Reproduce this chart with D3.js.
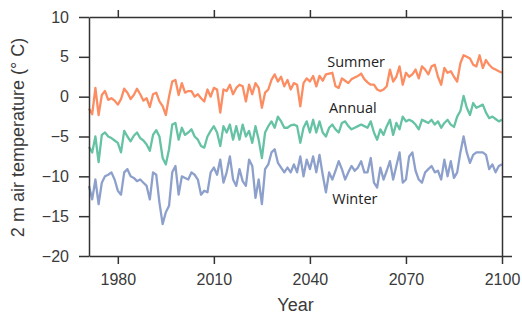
<!DOCTYPE html>
<html lang="en">
<head>
    <meta charset="utf-8">
    <title>2 m air temperature</title>
    <script src="https://cdn.jsdelivr.net/npm/d3@7"></script>
    <style>
        body {
            margin: 0;
            background-color: #fff;
        }
        .axis text {
            font-family: 'Liberation Sans', Arial, sans-serif;
            font-size: 16px;
            fill: #3a3a3a;
        }
        .axis line, .axis path {
            stroke: #333;
            stroke-width: 1.5;
        }
        .axis-title {
            font-family: 'Liberation Sans', Arial, sans-serif;
            font-size: 18px;
            fill: #3a3a3a;
        }
        .series-label {
            font-family: 'Open Sans', sans-serif;
            font-size: 14.5px;
            fill: #222;
        }
    </style>
</head>
<body>
    <svg id="chart"></svg>

    <script>
    // years on the x axis
    var firstYear = 1971;
    var lastYear = 2100;
    var years = d3.range(firstYear, lastYear + 1);

    var xTicks = [1980, 2010, 2040, 2070, 2100];
    var yTicks = [-20, -15, -10, -5, 0, 5, 10];

    // one value per year 1971-2100
    var summer = [
        -1.5, -2.2, 1.1, -2.3, 0.2, 0.7, -0.4, -0.2, -0.5, -1.0,
        -0.3, 1.0, 0.5, -0.3, 0.2, 1.0, 0.3, -0.5, -0.2, -1.3,
        0.3, 0.5, -0.6, -1.2, -2.3, 0.0, 1.9, 2.1, 0.2, 1.7,
        0.5, 0.7, 0.7, 0.0, 0.3, -0.2, -0.6, 0.9, 0.0, 1.1,
        0.9, -2.0, 0.9, 0.7, 1.5, 0.3, 1.1, 1.5, 1.3, -0.6,
        1.5, 0.3, 1.7, 1.1, -1.4, 0.5, 0.9, 2.1, 2.8, 1.9,
        2.5, 1.3, 2.1, 0.9, 1.7, 1.5, -1.2, 1.7, 2.3, 1.9,
        2.6, 1.3, 2.6, 2.0, 2.8, 2.9, 3.0, 1.3, 1.1, 2.3,
        2.0, 1.7, 2.2, 2.4, 2.6, 2.9, 2.2, 1.8, 1.5, 1.5,
        0.9, 0.7, 0.9, 1.3, 3.4, 1.9, 2.5, 3.8, 1.5, 3.0,
        2.5, 2.8, 3.4, 2.3, 3.8, 3.4, 2.8, 3.8, 4.0, 2.5,
        1.5, 3.6, 3.0, 3.2, 2.5, 1.9, 4.2, 5.2, 5.0, 4.8,
        4.0, 3.8, 5.2, 3.6, 4.6, 4.0, 3.6, 3.4, 3.2, 3.0
    ];

    var annual = [
        -6.3, -7.0, -5.0, -8.2, -4.8, -4.5, -5.0, -5.2, -5.5, -5.8,
        -7.0, -4.3, -5.0, -5.6, -4.9, -4.5, -5.2, -5.5, -6.0, -6.8,
        -4.8, -4.2, -5.0, -7.7, -8.5, -6.6, -3.5, -3.3, -5.4, -3.9,
        -4.8, -4.5, -4.1, -5.0, -5.4, -6.2, -6.4, -5.0, -4.3, -3.7,
        -4.5, -6.2, -3.7, -4.5, -3.5, -5.4, -3.7, -5.4, -3.5, -5.0,
        -4.3, -5.8, -3.7, -5.4, -7.7, -4.5, -3.7, -3.1, -3.9, -2.5,
        -3.1, -3.9, -3.9, -3.6, -3.5, -3.7, -5.8, -3.9, -3.1, -4.5,
        -2.9, -4.5, -3.1, -4.5, -5.0, -3.9, -3.5, -4.1, -4.5, -3.3,
        -3.1, -3.7, -4.1, -3.9, -3.7, -3.5, -3.7, -3.9, -3.1, -4.5,
        -5.4, -4.1, -4.8, -3.7, -2.9, -4.8, -3.3, -4.1, -2.5, -3.1,
        -2.9, -3.1, -3.5, -4.1, -2.9, -3.1, -3.3, -2.9, -3.5, -3.1,
        -3.9, -3.3, -2.9, -3.5, -3.8, -2.5, -1.8, 0.1, -1.4, -2.3,
        -0.8, -1.4, -1.2, -1.0, -2.0, -2.7, -2.5, -2.8, -3.1, -2.9
    ];

    var winter = [
        -11.2, -12.9, -10.4, -13.5, -10.8, -10.0, -9.8, -9.5, -10.4, -11.8,
        -12.3, -9.5, -9.1, -10.0, -10.2, -10.6, -10.4, -10.8, -11.2, -12.9,
        -9.5, -9.8, -13.3, -16.0, -14.5, -13.7, -9.5, -8.7, -12.3, -10.0,
        -10.2, -10.4, -9.5, -9.8, -10.4, -12.3, -11.8, -12.0, -9.5, -8.9,
        -9.8, -7.9, -10.8, -9.5, -7.5, -10.4, -11.2, -9.1, -10.6, -11.2,
        -7.9, -8.7, -12.7, -10.4, -13.5, -9.1, -8.5, -7.0, -6.6, -8.3,
        -8.9, -9.5, -8.9, -9.5, -8.5, -9.5, -7.5, -10.0, -7.9, -9.1,
        -7.5, -9.5, -7.3, -9.8, -12.0, -9.5, -10.4, -9.3, -8.1, -9.1,
        -10.4, -9.5, -8.7, -9.3, -8.9, -8.1, -9.5, -9.5, -7.7, -10.8,
        -11.4, -8.9, -10.4, -9.3, -8.1, -10.4, -8.7, -7.0, -10.8, -10.4,
        -7.5, -7.0, -9.3, -10.4, -10.8, -9.5, -9.1, -8.7, -9.5, -9.3,
        -10.4, -7.9, -10.0, -8.1, -10.2, -9.5, -7.0, -5.0, -7.0, -8.3,
        -7.3, -7.0, -7.0, -7.0, -7.3, -9.1, -8.5, -9.5, -8.7, -8.5
    ];

    var seriesNames = ["Summer", "Annual", "Winter"];
    var seriesColors = ["#fc8d62", "#66c2a5", "#8da0cb"];
    // label anchor: year and temperature where each name sits
    var labelYears = [2045.4, 2046, 2047];
    var labelTemps = [3.75, -2.1, -13.5];

    var width = 522;
    var height = 315;
    var margin = { top: 17, right: 20, bottom: 59, left: 89 };
    var innerW = width - margin.left - margin.right;
    var innerH = height - margin.top - margin.bottom;

    var x = d3.scaleLinear()
        .domain([firstYear, lastYear])
        .range([0, innerW]);

    var y = d3.scaleLinear()
        .domain([-20, 10])
        .range([innerH, 0]);

    var svg = d3.select("#chart")
        .attr("width", width)
        .attr("height", height);

    var g = svg.append("g")
        .attr("transform", "translate(" + margin.left + "," + margin.top + ")");

    // lines first, then the frame on top
    var allSeries = [summer, annual, winter];
    var line = d3.line()
        .x(function(d, i) { return x(years[i]); })
        .y(function(d) { return y(d); });

    g.selectAll("path.series")
        .data(allSeries)
        .enter().append("path")
        .attr("class", "series")
        .attr("d", line)
        .style("fill", "none")
        .style("stroke", function(d, i) { return seriesColors[i]; })
        .style("stroke-width", 2.3)
        .style("stroke-linejoin", "round");

    g.selectAll("text.series-label")
        .data(seriesNames)
        .enter().append("text")
        .attr("class", "series-label")
        .attr("x", function(d, i) { return x(labelYears[i]); })
        .attr("y", function(d, i) { return y(labelTemps[i]); })
        .text(function(d) { return d; });

    // axes on all four sides, labels only bottom and left
    g.append("g")
        .attr("class", "axis")
        .attr("transform", "translate(0," + innerH + ")")
        .call(d3.axisBottom(x).tickValues(xTicks).tickFormat(d3.format("d")).tickSize(8).tickSizeOuter(0).tickPadding(10));

    g.append("g")
        .attr("class", "axis")
        .call(d3.axisTop(x).tickValues(xTicks).tickFormat("").tickSize(7).tickSizeOuter(0));

    g.append("g")
        .attr("class", "axis")
        .call(d3.axisLeft(y).tickValues(yTicks).tickFormat(function(d) { return d < 0 ? "\u2212" + Math.abs(d) : d; }).tickSize(10).tickSizeOuter(0).tickPadding(10));

    g.append("g")
        .attr("class", "axis")
        .attr("transform", "translate(" + innerW + ",0)")
        .call(d3.axisRight(y).tickValues(yTicks).tickFormat("").tickSize(10).tickSizeOuter(0));

    svg.append("text")
        .attr("class", "axis-title")
        .attr("x", margin.left + innerW / 2)
        .attr("y", 311)
        .attr("text-anchor", "middle")
        .text("Year");

    svg.append("text")
        .attr("class", "axis-title")
        .attr("transform", "translate(24," + (margin.top + innerH / 2 + 1) + ") rotate(-90)")
        .attr("text-anchor", "middle")
        .text("2 m air temperature (\u00b0 C)");
    </script>
</body>
</html>
